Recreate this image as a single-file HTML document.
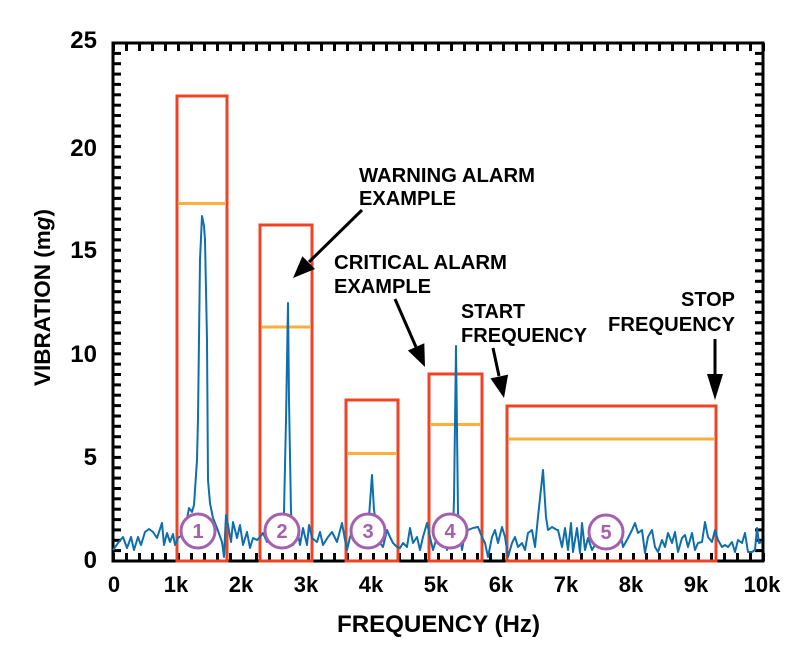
<!DOCTYPE html>
<html>
<head>
<meta charset="utf-8">
<style>
  html, body { margin: 0; padding: 0; background: #fff; }
  svg { display: block; }
  text { font-family: "Liberation Sans", Arial, sans-serif; font-weight: bold; fill: #000; }
</style>
</head>
<body>
<svg width="797" height="652" viewBox="0 0 797 652" xmlns="http://www.w3.org/2000/svg" xmlns:xlink="http://www.w3.org/1999/xlink">
  <rect x="0" y="0" width="797" height="652" fill="#ffffff"/>

  <!-- x ticks (top) -->
  <g id="xt" fill="#000000">
    <rect x="112" y="43" width="3" height="8"/><rect x="125" y="43" width="3" height="8"/><rect x="138" y="43" width="3" height="8"/><rect x="151" y="43" width="3" height="8"/><rect x="164" y="43" width="3" height="8"/>
    <rect x="177" y="43" width="3" height="8"/><rect x="190" y="43" width="3" height="8"/><rect x="203" y="43" width="3" height="8"/><rect x="216" y="43" width="3" height="8"/><rect x="229" y="43" width="3" height="8"/>
    <rect x="242" y="43" width="3" height="8"/><rect x="255" y="43" width="3" height="8"/><rect x="268" y="43" width="3" height="8"/><rect x="281" y="43" width="3" height="8"/><rect x="294" y="43" width="3" height="8"/>
    <rect x="307" y="43" width="3" height="8"/><rect x="320" y="43" width="3" height="8"/><rect x="333" y="43" width="3" height="8"/><rect x="346" y="43" width="3" height="8"/><rect x="359" y="43" width="3" height="8"/>
    <rect x="372" y="43" width="3" height="8"/><rect x="385" y="43" width="3" height="8"/><rect x="398" y="43" width="3" height="8"/><rect x="411" y="43" width="3" height="8"/><rect x="424" y="43" width="3" height="8"/>
    <rect x="437" y="43" width="3" height="8"/><rect x="450" y="43" width="3" height="8"/><rect x="463" y="43" width="3" height="8"/><rect x="476" y="43" width="3" height="8"/><rect x="489" y="43" width="3" height="8"/>
    <rect x="502" y="43" width="3" height="8"/><rect x="515" y="43" width="3" height="8"/><rect x="528" y="43" width="3" height="8"/><rect x="541" y="43" width="3" height="8"/><rect x="554" y="43" width="3" height="8"/>
    <rect x="567" y="43" width="3" height="8"/><rect x="580" y="43" width="3" height="8"/><rect x="593" y="43" width="3" height="8"/><rect x="606" y="43" width="3" height="8"/><rect x="619" y="43" width="3" height="8"/>
    <rect x="632" y="43" width="3" height="8"/><rect x="645" y="43" width="3" height="8"/><rect x="658" y="43" width="3" height="8"/><rect x="671" y="43" width="3" height="8"/><rect x="684" y="43" width="3" height="8"/>
    <rect x="697" y="43" width="3" height="8"/><rect x="710" y="43" width="3" height="8"/><rect x="723" y="43" width="3" height="8"/><rect x="736" y="43" width="3" height="8"/><rect x="749" y="43" width="3" height="8"/>
    <rect x="762" y="43" width="3" height="8"/>
  </g>
  <use xlink:href="#xt" href="#xt" transform="translate(0,510)"/>

  <!-- y ticks (left) -->
  <g id="yt" fill="#000000">
    <rect x="113" y="559.5" width="8" height="3"/><rect x="113" y="549.1" width="8" height="3"/><rect x="113" y="538.8" width="8" height="3"/><rect x="113" y="528.4" width="8" height="3"/><rect x="113" y="518.1" width="8" height="3"/>
    <rect x="113" y="507.7" width="8" height="3"/><rect x="113" y="497.3" width="8" height="3"/><rect x="113" y="487" width="8" height="3"/><rect x="113" y="476.6" width="8" height="3"/><rect x="113" y="466.3" width="8" height="3"/>
    <rect x="113" y="455.9" width="8" height="3"/><rect x="113" y="445.5" width="8" height="3"/><rect x="113" y="435.2" width="8" height="3"/><rect x="113" y="424.8" width="8" height="3"/><rect x="113" y="414.5" width="8" height="3"/>
    <rect x="113" y="404.1" width="8" height="3"/><rect x="113" y="393.7" width="8" height="3"/><rect x="113" y="383.4" width="8" height="3"/><rect x="113" y="373" width="8" height="3"/><rect x="113" y="362.7" width="8" height="3"/>
    <rect x="113" y="352.3" width="8" height="3"/><rect x="113" y="341.9" width="8" height="3"/><rect x="113" y="331.6" width="8" height="3"/><rect x="113" y="321.2" width="8" height="3"/><rect x="113" y="310.9" width="8" height="3"/>
    <rect x="113" y="300.5" width="8" height="3"/><rect x="113" y="290.1" width="8" height="3"/><rect x="113" y="279.8" width="8" height="3"/><rect x="113" y="269.4" width="8" height="3"/><rect x="113" y="259.1" width="8" height="3"/>
    <rect x="113" y="248.7" width="8" height="3"/><rect x="113" y="238.3" width="8" height="3"/><rect x="113" y="228" width="8" height="3"/><rect x="113" y="217.6" width="8" height="3"/><rect x="113" y="207.3" width="8" height="3"/>
    <rect x="113" y="196.9" width="8" height="3"/><rect x="113" y="186.5" width="8" height="3"/><rect x="113" y="176.2" width="8" height="3"/><rect x="113" y="165.8" width="8" height="3"/><rect x="113" y="155.5" width="8" height="3"/>
    <rect x="113" y="145.1" width="8" height="3"/><rect x="113" y="134.7" width="8" height="3"/><rect x="113" y="124.4" width="8" height="3"/><rect x="113" y="114" width="8" height="3"/><rect x="113" y="103.7" width="8" height="3"/>
    <rect x="113" y="93.3" width="8" height="3"/><rect x="113" y="82.9" width="8" height="3"/><rect x="113" y="72.6" width="8" height="3"/><rect x="113" y="62.2" width="8" height="3"/><rect x="113" y="51.9" width="8" height="3"/>
    <rect x="113" y="41.5" width="8" height="3"/>
  </g>
  <use xlink:href="#yt" href="#yt" transform="translate(642,0)"/>

  <!-- frame -->
  <rect x="113" y="43" width="650" height="518" fill="none" stroke="#000" stroke-width="3"/>

  <!-- alarm boxes -->
  <g fill="none" stroke="#ef4424" stroke-width="3">
    <rect x="177" y="96" width="50" height="465"/>
    <rect x="260" y="225" width="52" height="336"/>
    <rect x="346" y="400" width="52" height="161"/>
    <rect x="429" y="374" width="53" height="187"/>
    <rect x="507" y="406" width="209" height="155"/>
  </g>
  <g stroke="#fbae40" stroke-width="3">
    <line x1="178" y1="203.5" x2="226" y2="203.5"/>
    <line x1="261" y1="327" x2="311" y2="327"/>
    <line x1="347" y1="453.5" x2="397" y2="453.5"/>
    <line x1="430" y1="424.5" x2="481" y2="424.5"/>
    <line x1="508" y1="439" x2="715" y2="439"/>
  </g>

  <!-- spectrum -->
  <polyline fill="none" stroke="#0e6fad" stroke-width="2" stroke-linejoin="round" points="
113,550 118,543 123,537 127,548 131,537 134,550 138,537 141,545 145,532 149,529 153,532 157,538 162,523 164,545 167,533 170,542 173,534 175,545 178,538 182,535 185,530 189,508 192,512 194,505 197,460 198,418 200,260 202,216 204,226 205,240 207,340 208,480 210,503 213,518 217,528 222,542 224,557 226,515 228,525 231,542 233,522 237,538 240,525 243,545 247,532 250,548 253,538 257,540 260,537 263,533 267,542 270,537 273,545 277,542 280,543 283,538 284,512 286,420 288,303 289,400 291,512 293,545 297,528 300,545 303,528 307,545 309,525 312,538 317,542 320,532 323,545 328,537 332,532 337,542 342,523 345,540
347,550 350,537 353,530 357,543 360,538 363,530 367,537 369,517 372,475 374,510 377,530 380,543 383,547 387,530 390,537 393,543 397,547 400,548 403,543 407,547 410,528 413,543 417,537 420,550 423,537 427,523 430,537 433,550 437,537 440,543 443,530 447,550 450,540 453,530 454,500 456,346 458,513 462,550 465,533 468,530 473,528 478,527 482,537 485,543 488,557 492,537 495,530 498,543 502,527 505,537 508,557 512,543 515,537 518,547 522,543 525,550 528,533 532,530 535,547 538,517 543,470 546,517 548,530 552,527 557,530
558,530 562,547 565,528 568,550 571,523 573,552 577,528 580,553 582,523 585,550 588,538 592,550 595,545 598,540 602,535 605,545 608,530 612,548 615,533 618,545 620,530 623,547 628,538 632,530 635,523 638,533 642,530 645,553 648,537 652,530 655,547 658,552 662,540 665,547 668,533 672,543 675,532 678,552 682,538 685,535 688,547 692,533 695,550 698,543 702,542 705,522 708,537 712,542 715,530 718,540 722,547 725,545 728,547 732,542 735,552 738,540 742,543 745,533 748,552 752,552 755,550 757,528 759,543 762,542"/>

  <!-- numbered circles -->
  <g fill="#fff" stroke="#a45fae" stroke-width="3">
    <circle cx="198" cy="531" r="17"/>
    <circle cx="282" cy="531" r="17"/>
    <circle cx="368" cy="531" r="17"/>
    <circle cx="450" cy="531" r="17"/>
    <circle cx="606" cy="532" r="17"/>
  </g>
  <g font-size="20" text-anchor="middle">
    <text x="198" y="538" style="fill:#a45fae">1</text>
    <text x="282" y="538" style="fill:#a45fae">2</text>
    <text x="368" y="538" style="fill:#a45fae">3</text>
    <text x="450" y="538" style="fill:#a45fae">4</text>
    <text x="606" y="539" style="fill:#a45fae">5</text>
  </g>

  <!-- arrows -->
  <g stroke="#000" stroke-width="3">
    <line x1="362" y1="210" x2="309" y2="262"/>
    <line x1="395" y1="299" x2="416" y2="347"/>
    <line x1="493" y1="348" x2="499" y2="376"/>
    <line x1="715" y1="339" x2="715" y2="376"/>
  </g>
  <g fill="#000">
    <polygon points="293,278 315,269 302.4,256.2"/>
    <polygon points="425,367 407.9,350.5 424.3,343.3"/>
    <polygon points="504,398 490.5,378.4 508.1,374.6"/>
    <polygon points="715,400 707,374 723,374"/>
  </g>

  <!-- annotations -->
  <g font-size="20">
    <text x="359" y="182" textLength="176" lengthAdjust="spacingAndGlyphs">WARNING ALARM</text>
    <text x="359" y="205" textLength="97" lengthAdjust="spacingAndGlyphs">EXAMPLE</text>
    <text x="334" y="269" textLength="173" lengthAdjust="spacingAndGlyphs">CRITICAL ALARM</text>
    <text x="334" y="293" textLength="97" lengthAdjust="spacingAndGlyphs">EXAMPLE</text>
    <text x="461" y="318" textLength="64" lengthAdjust="spacingAndGlyphs">START</text>
    <text x="461" y="342" textLength="126" lengthAdjust="spacingAndGlyphs">FREQUENCY</text>
    <text x="681" y="306" textLength="54" lengthAdjust="spacingAndGlyphs">STOP</text>
    <text x="608" y="331" textLength="127" lengthAdjust="spacingAndGlyphs">FREQUENCY</text>
  </g>

  <!-- y tick labels -->
  <g font-size="24" text-anchor="end">
    <text x="97" y="48">25</text>
    <text x="97" y="156">20</text>
    <text x="97" y="258">15</text>
    <text x="97" y="362">10</text>
    <text x="97" y="465">5</text>
    <text x="97" y="568">0</text>
  </g>

  <!-- x tick labels -->
  <g font-size="22" text-anchor="middle">
    <text x="114" y="592">0</text>
    <text x="176" y="592">1k</text>
    <text x="241" y="592">2k</text>
    <text x="306" y="592">3k</text>
    <text x="371" y="592">4k</text>
    <text x="436" y="592">5k</text>
    <text x="501" y="592">6k</text>
    <text x="566" y="592">7k</text>
    <text x="631" y="592">8k</text>
    <text x="696" y="592">9k</text>
    <text x="762" y="592">10k</text>
  </g>

  <!-- axis titles -->
  <text x="438.5" y="632" font-size="24" text-anchor="middle" textLength="203" lengthAdjust="spacingAndGlyphs">FREQUENCY (Hz)</text>
  <text transform="translate(50,297.5) rotate(-90)" font-size="22.5" text-anchor="middle">VIBRATION (m<tspan font-style="italic">g</tspan>)</text>
</svg>
</body>
</html>
